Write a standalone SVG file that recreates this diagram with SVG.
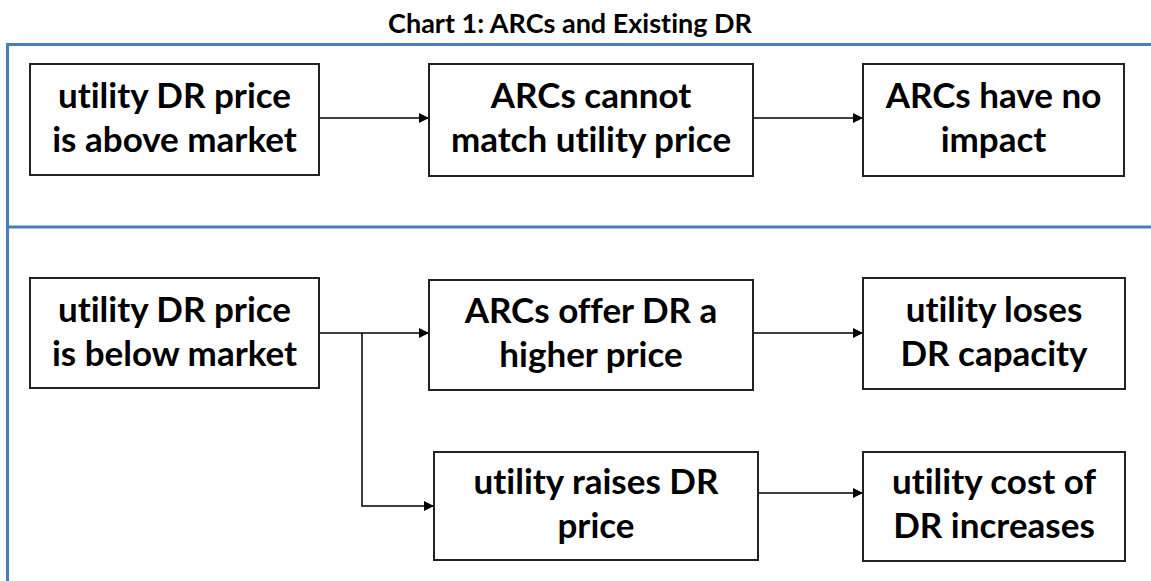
<svg xmlns="http://www.w3.org/2000/svg" width="1151" height="581" viewBox="0 0 1151 581">
  <style>
    .frame { fill: none; stroke: #4a7ebb; stroke-width: 3; }
    .box { fill: #ffffff; stroke: #222222; stroke-width: 2; }
    .lbl { font-family: Lato, "Liberation Sans", sans-serif; font-weight: bold; font-size: 35px; fill: #000000; text-anchor: middle; font-variant-ligatures: none; }
    .title { font-family: Lato, "Liberation Sans", sans-serif; font-weight: bold; font-size: 27px; fill: #000000; text-anchor: middle; font-variant-ligatures: none; }
    .conn { fill: none; stroke: #000000; stroke-width: 1.5; }
  </style>
  <defs>
    <marker id="arrow" viewBox="0 0 10 10" refX="10" refY="5" markerWidth="10" markerHeight="10" markerUnits="userSpaceOnUse" orient="auto">
      <path d="M0,0 L10,5 L0,10 z" fill="#000000"/>
    </marker>
  </defs>

  <rect width="1151" height="581" fill="#ffffff"/>

  <text class="title" x="570" y="33">Chart 1: ARCs and Existing DR</text>

  <!-- panel frame: top edge, left edge, divider -->
  <g id="frame">
    <path class="frame" d="M1151,44.5 H7.5 V581"/>
    <path class="frame" d="M7.5,227 H1151" stroke-width="4"/>
  </g>

  <g id="connectors">
    <path class="conn" d="M319,118 H429" marker-end="url(#arrow)"/>
    <path class="conn" d="M753,118 H863" marker-end="url(#arrow)"/>
    <path class="conn" d="M319,333 H429" marker-end="url(#arrow)"/>
    <path class="conn" d="M362,333 V506 H434" marker-end="url(#arrow)"/>
    <path class="conn" d="M753,333 H863" marker-end="url(#arrow)"/>
    <path class="conn" d="M758,493 H863" marker-end="url(#arrow)"/>
  </g>

  <g id="above-market">
    <rect class="box" x="30" y="64" width="289" height="111"/>
    <text class="lbl" x="174.5" y="108">utility DR price</text>
    <text class="lbl" x="174.5" y="152">is above market</text>
  </g>
  <g id="arcs-cannot-match">
    <rect class="box" x="429" y="64" width="324" height="112"/>
    <text class="lbl" x="591" y="108">ARCs cannot</text>
    <text class="lbl" x="591" y="152">match utility price</text>
  </g>
  <g id="no-impact">
    <rect class="box" x="863" y="64" width="261" height="112"/>
    <text class="lbl" x="993.5" y="108">ARCs have no</text>
    <text class="lbl" x="993.5" y="152">impact</text>
  </g>

  <g id="below-market">
    <rect class="box" x="30" y="278" width="289" height="110"/>
    <text class="lbl" x="174.5" y="322">utility DR price</text>
    <text class="lbl" x="174.5" y="366">is below market</text>
  </g>
  <g id="arcs-offer-higher">
    <rect class="box" x="429" y="280" width="324" height="110"/>
    <text class="lbl" x="591" y="323">ARCs offer DR a</text>
    <text class="lbl" x="591" y="367">higher price</text>
  </g>
  <g id="loses-capacity">
    <rect class="box" x="863" y="278" width="262" height="111"/>
    <text class="lbl" x="994" y="322">utility loses</text>
    <text class="lbl" x="994" y="366">DR capacity</text>
  </g>
  <g id="raises-price">
    <rect class="box" x="434" y="452" width="324" height="108"/>
    <text class="lbl" x="596" y="494">utility raises DR</text>
    <text class="lbl" x="596" y="538">price</text>
  </g>
  <g id="cost-increases">
    <rect class="box" x="863" y="452" width="262" height="109"/>
    <text class="lbl" x="994" y="494">utility cost of</text>
    <text class="lbl" x="994" y="538">DR increases</text>
  </g>
</svg>
